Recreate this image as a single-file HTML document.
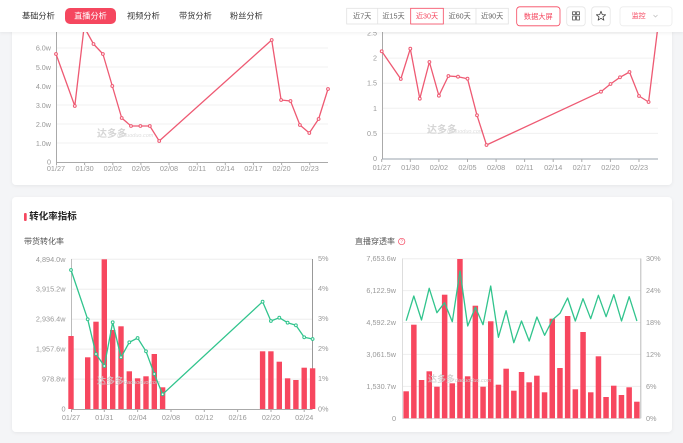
<!DOCTYPE html>
<html><head><meta charset="utf-8">
<style>
html,body{margin:0;padding:0;background:#f4f5f7;}
body{width:683px;height:443px;overflow:hidden;}
svg{display:block;font-family:"Liberation Sans","Noto Sans CJK SC",sans-serif;}
</style></head>
<body>
<svg width="683" height="443" viewBox="0 0 683 443" xmlns="http://www.w3.org/2000/svg">
<defs>
<filter id="sh" x="-5%" y="-5%" width="110%" height="120%"><feDropShadow dx="0" dy="1" stdDeviation="1.5" flood-color="#000" flood-opacity="0.06"/></filter>
</defs>
<rect width="683" height="443" fill="#f4f5f7"/>
<!-- top card -->
<rect x="12" y="-10" width="660" height="195" rx="4" fill="#fff" filter="url(#sh)"/>
<!-- bottom card -->
<rect x="12" y="197" width="660" height="235" rx="4" fill="#fff" filter="url(#sh)"/>

<!-- ===== Top-left chart ===== -->
<g stroke="#f0f0f0" stroke-width="1">
<line x1="56" y1="29" x2="328" y2="29"/><line x1="56" y1="48" x2="328" y2="48"/><line x1="56" y1="67" x2="328" y2="67"/><line x1="56" y1="86" x2="328" y2="86"/><line x1="56" y1="105" x2="328" y2="105"/><line x1="56" y1="124" x2="328" y2="124"/><line x1="56" y1="143" x2="328" y2="143"/>
</g>
<line x1="56.5" y1="20" x2="56.5" y2="162" stroke="#aaa" stroke-width="1"/>
<line x1="56" y1="162.5" x2="328" y2="162.5" stroke="#aaa" stroke-width="1"/>
<g stroke="#aaa"><line x1="56.5" y1="162" x2="56.5" y2="165"/><line x1="84.6" y1="162" x2="84.6" y2="165"/><line x1="112.8" y1="162" x2="112.8" y2="165"/><line x1="140.9" y1="162" x2="140.9" y2="165"/><line x1="169" y1="162" x2="169" y2="165"/><line x1="197.2" y1="162" x2="197.2" y2="165"/><line x1="225.3" y1="162" x2="225.3" y2="165"/><line x1="253.4" y1="162" x2="253.4" y2="165"/><line x1="281.6" y1="162" x2="281.6" y2="165"/><line x1="309.7" y1="162" x2="309.7" y2="165"/></g>
<g font-size="7.2" fill="#999" text-anchor="end" dominant-baseline="central">
<text x="51" y="29">7.0w</text><text x="51" y="48">6.0w</text><text x="51" y="67.5">5.0w</text><text x="51" y="86.5">4.0w</text><text x="51" y="105.5">3.0w</text><text x="51" y="124.5">2.0w</text><text x="51" y="143.5">1.0w</text><text x="51" y="162">0</text>
</g>
<g font-size="7.3" fill="#999" text-anchor="middle" dominant-baseline="central">
<text x="56" y="168.7">01/27</text><text x="84.6" y="168.7">01/30</text><text x="112.8" y="168.7">02/02</text><text x="140.9" y="168.7">02/05</text><text x="169" y="168.7">02/08</text><text x="197.2" y="168.7">02/11</text><text x="225.3" y="168.7">02/14</text><text x="253.4" y="168.7">02/17</text><text x="281.6" y="168.7">02/20</text><text x="309.7" y="168.7">02/23</text>
</g>
<text x="97" y="137" font-size="10" font-weight="bold" fill="#d6d6d6">达多多</text><text x="117" y="137" font-size="5.5" fill="#ddd" font-style="italic">daduoduo.com</text>
<polyline fill="none" stroke="#ee5a73" stroke-width="1.3" stroke-linejoin="round" points="56,54 74.8,106 84.1,27 93.5,44 102.9,54 112.3,86 121.7,118 131,126 140.4,126 149.8,126 159.2,141 271.7,40 281.1,100 290.5,101 299.9,125 309.3,133 318.6,119 328,89"/>
<g fill="#fff" stroke="#ee5a73" stroke-width="1">
<circle cx="56" cy="54" r="1.4"/><circle cx="74.8" cy="106" r="1.4"/><circle cx="84.1" cy="27" r="1.4"/><circle cx="93.5" cy="44" r="1.4"/><circle cx="102.9" cy="54" r="1.4"/><circle cx="112.3" cy="86" r="1.4"/><circle cx="121.7" cy="118" r="1.4"/><circle cx="131" cy="126" r="1.4"/><circle cx="140.4" cy="126" r="1.4"/><circle cx="149.8" cy="126" r="1.4"/><circle cx="159.2" cy="141" r="1.4"/><circle cx="271.7" cy="40" r="1.4"/><circle cx="281.1" cy="100" r="1.4"/><circle cx="290.5" cy="101" r="1.4"/><circle cx="299.9" cy="125" r="1.4"/><circle cx="309.3" cy="133" r="1.4"/><circle cx="318.6" cy="119" r="1.4"/><circle cx="328" cy="89" r="1.4"/>
</g>

<!-- ===== Top-right chart ===== -->
<g stroke="#f0f0f0" stroke-width="1">
<line x1="382" y1="33" x2="658" y2="33"/><line x1="382" y1="58.1" x2="658" y2="58.1"/><line x1="382" y1="83.2" x2="658" y2="83.2"/><line x1="382" y1="108.3" x2="658" y2="108.3"/><line x1="382" y1="133.4" x2="658" y2="133.4"/>
</g>
<line x1="382.5" y1="20" x2="382.5" y2="159" stroke="#aaa"/>
<line x1="382" y1="159" x2="658" y2="159" stroke="#9aa3ad"/>
<g stroke="#aaa"><line x1="381.7" y1="159" x2="381.7" y2="162"/><line x1="410.3" y1="159" x2="410.3" y2="162"/><line x1="438.9" y1="159" x2="438.9" y2="162"/><line x1="467.5" y1="159" x2="467.5" y2="162"/><line x1="496.1" y1="159" x2="496.1" y2="162"/><line x1="524.6" y1="159" x2="524.6" y2="162"/><line x1="553.2" y1="159" x2="553.2" y2="162"/><line x1="581.8" y1="159" x2="581.8" y2="162"/><line x1="610.4" y1="159" x2="610.4" y2="162"/><line x1="639" y1="159" x2="639" y2="162"/></g>
<g font-size="7.2" fill="#999" text-anchor="end" dominant-baseline="central">
<text x="377" y="33">2.5</text><text x="377" y="58">2</text><text x="377" y="83.2">1.5</text><text x="377" y="108.5">1</text><text x="377" y="133.6">0.5</text><text x="377" y="158.3">0</text>
</g>
<g font-size="7.3" fill="#999" text-anchor="middle" dominant-baseline="central">
<text x="381.7" y="167.3">01/27</text><text x="410.3" y="167.3">01/30</text><text x="438.9" y="167.3">02/02</text><text x="467.5" y="167.3">02/05</text><text x="496.1" y="167.3">02/08</text><text x="524.6" y="167.3">02/11</text><text x="553.2" y="167.3">02/14</text><text x="581.8" y="167.3">02/17</text><text x="610.4" y="167.3">02/20</text><text x="639" y="167.3">02/23</text>
</g>
<text x="427" y="133" font-size="10" font-weight="bold" fill="#d6d6d6">达多多</text><text x="447" y="133" font-size="5.5" fill="#ddd" font-style="italic">daduoduo.com</text>
<polyline fill="none" stroke="#ee5a73" stroke-width="1.3" stroke-linejoin="round" points="381.7,51.3 400.8,79 410.3,48.7 419.8,98.7 429.4,62 438.9,95.7 448.4,76 458,76.7 467.5,78.7 477,115.3 486.5,145 601,91.7 610.5,84 620,77.3 629.5,72 639,96 648.6,102 658,26"/>
<g fill="#fff" stroke="#ee5a73" stroke-width="1">
<circle cx="381.7" cy="51.3" r="1.4"/><circle cx="400.8" cy="79" r="1.4"/><circle cx="410.3" cy="48.7" r="1.4"/><circle cx="419.8" cy="98.7" r="1.4"/><circle cx="429.4" cy="62" r="1.4"/><circle cx="438.9" cy="95.7" r="1.4"/><circle cx="448.4" cy="76" r="1.4"/><circle cx="458" cy="76.7" r="1.4"/><circle cx="467.5" cy="78.7" r="1.4"/><circle cx="477" cy="115.3" r="1.4"/><circle cx="486.5" cy="145" r="1.4"/><circle cx="601" cy="91.7" r="1.4"/><circle cx="610.5" cy="84" r="1.4"/><circle cx="620" cy="77.3" r="1.4"/><circle cx="629.5" cy="72" r="1.4"/><circle cx="639" cy="96" r="1.4"/><circle cx="648.6" cy="102" r="1.4"/>
</g>

<!-- ===== Bottom card header ===== -->
<rect x="24" y="213" width="2.7" height="8" rx="1" fill="#f5475f"/>
<text x="29.3" y="217" font-size="9.5" font-weight="bold" fill="#222" dominant-baseline="central">转化率指标</text>
<text x="24" y="241.5" font-size="8" fill="#555" dominant-baseline="central">带货转化率</text>
<text x="355" y="241.5" font-size="8" fill="#555" dominant-baseline="central">直播穿透率</text>
<circle cx="401.7" cy="241.5" r="3.2" fill="none" stroke="#f5475f" stroke-width="0.7"/>
<text x="401.7" y="241.8" font-size="4.8" fill="#f5475f" text-anchor="middle" dominant-baseline="central">?</text>

<!-- ===== Bottom-left chart ===== -->
<g stroke="#eee" stroke-width="1">
<line x1="71" y1="259.3" x2="312.3" y2="259.3"/><line x1="71" y1="289.2" x2="312.3" y2="289.2"/><line x1="71" y1="319.2" x2="312.3" y2="319.2"/><line x1="71" y1="349.1" x2="312.3" y2="349.1"/><line x1="71" y1="379.1" x2="312.3" y2="379.1"/>
</g>
<line x1="71.5" y1="259" x2="71.5" y2="409" stroke="#bbb"/>
<line x1="312.5" y1="259" x2="312.5" y2="409" stroke="#999"/>
<line x1="71" y1="409.5" x2="312.5" y2="409.5" stroke="#aaa"/>
<g stroke="#aaa"><line x1="71.5" y1="409" x2="71.5" y2="412"/><line x1="104.3" y1="409" x2="104.3" y2="412"/><line x1="137.6" y1="409" x2="137.6" y2="412"/><line x1="171" y1="409" x2="171" y2="412"/><line x1="204.3" y1="409" x2="204.3" y2="412"/><line x1="237.6" y1="409" x2="237.6" y2="412"/><line x1="271" y1="409" x2="271" y2="412"/><line x1="304.2" y1="409" x2="304.2" y2="412"/></g>
<g font-size="7.3" fill="#999" text-anchor="end" dominant-baseline="central">
<text x="65.5" y="259.3">4,894.0w</text><text x="65.5" y="289.2">3,915.2w</text><text x="65.5" y="319.2">2,936.4w</text><text x="65.5" y="349.1">1,957.6w</text><text x="65.5" y="379.1">978.8w</text><text x="65.5" y="409">0</text>
</g>
<g font-size="7.3" fill="#999" text-anchor="start" dominant-baseline="central">
<text x="318" y="258.5">5%</text><text x="318" y="288.5">4%</text><text x="318" y="318.5">3%</text><text x="318" y="348.5">2%</text><text x="318" y="378.5">1%</text><text x="318" y="409">0%</text>
</g>
<g font-size="7.3" fill="#999" text-anchor="middle" dominant-baseline="central">
<text x="71" y="417.7">01/27</text><text x="104.3" y="417.7">01/31</text><text x="137.6" y="417.7">02/04</text><text x="171" y="417.7">02/08</text><text x="204.3" y="417.7">02/12</text><text x="237.6" y="417.7">02/16</text><text x="271" y="417.7">02/20</text><text x="304.2" y="417.7">02/24</text>
</g>
<g fill="#f7475f">
<rect x="68.3" y="336" width="5.4" height="73"/>
<rect x="85" y="357.3" width="5.4" height="51.7"/>
<rect x="93.3" y="321.7" width="5.4" height="87.3"/>
<rect x="101.6" y="259.3" width="5.4" height="149.7"/>
<rect x="110" y="330" width="5.4" height="79"/>
<rect x="118.3" y="326.3" width="5.4" height="82.7"/>
<rect x="126.6" y="371.3" width="5.4" height="37.7"/>
<rect x="134.9" y="378.3" width="5.4" height="30.7"/>
<rect x="143.3" y="376.3" width="5.4" height="32.7"/>
<rect x="151.6" y="354" width="5.4" height="55"/>
<rect x="159.9" y="387.3" width="5.4" height="21.7"/>
<rect x="259.9" y="351.3" width="5.4" height="57.7"/>
<rect x="268.2" y="351.3" width="5.4" height="57.7"/>
<rect x="276.6" y="361.7" width="5.4" height="47.3"/>
<rect x="284.9" y="378.3" width="5.4" height="30.7"/>
<rect x="293.2" y="380" width="5.4" height="29"/>
<rect x="301.5" y="367.7" width="5.4" height="41.3"/>
<rect x="309.9" y="368.3" width="5.4" height="40.7"/>
</g>
<text x="97" y="384" font-size="9" font-weight="bold" fill="#ccc" fill-opacity="0.8">达多多</text><text x="124" y="384" font-size="5.5" fill="#ccc" font-style="italic">daduoduo.com</text>
<polyline fill="none" stroke="#31c48d" stroke-width="1.3" stroke-linejoin="round" points="71,270 87.7,319.3 96,354 104.3,366 112.7,322.3 121,357.3 129.3,342.3 137.6,338 146,351.3 154.3,374 162.6,394.3 262.6,301.7 270.9,321 279.3,317.7 287.6,322.7 295.9,325.3 304.2,337.3 312.6,339"/>
<g fill="#fff" stroke="#31c48d" stroke-width="1">
<circle cx="71" cy="270" r="1.4"/><circle cx="87.7" cy="319.3" r="1.4"/><circle cx="96" cy="354" r="1.4"/><circle cx="104.3" cy="366" r="1.4"/><circle cx="112.7" cy="322.3" r="1.4"/><circle cx="121" cy="357.3" r="1.4"/><circle cx="129.3" cy="342.3" r="1.4"/><circle cx="137.6" cy="338" r="1.4"/><circle cx="146" cy="351.3" r="1.4"/><circle cx="154.3" cy="374" r="1.4"/><circle cx="162.6" cy="394.3" r="1.4"/><circle cx="262.6" cy="301.7" r="1.4"/><circle cx="270.9" cy="321" r="1.4"/><circle cx="279.3" cy="317.7" r="1.4"/><circle cx="287.6" cy="322.7" r="1.4"/><circle cx="295.9" cy="325.3" r="1.4"/><circle cx="304.2" cy="337.3" r="1.4"/><circle cx="312.6" cy="339" r="1.4"/>
</g>

<!-- ===== Bottom-right chart ===== -->
<g stroke="#eee" stroke-width="1">
<line x1="402.3" y1="258.7" x2="640.7" y2="258.7"/><line x1="402.3" y1="290.6" x2="640.7" y2="290.6"/><line x1="402.3" y1="322.5" x2="640.7" y2="322.5"/><line x1="402.3" y1="354.4" x2="640.7" y2="354.4"/><line x1="402.3" y1="386.4" x2="640.7" y2="386.4"/>
</g>
<line x1="402.5" y1="258.5" x2="402.5" y2="418.3" stroke="#ddd"/>
<line x1="640.8" y1="258.5" x2="640.8" y2="418.3" stroke="#bbb"/>
<line x1="402.3" y1="418.5" x2="640.7" y2="418.5" stroke="#ddd"/>
<g font-size="7.3" fill="#999" text-anchor="end" dominant-baseline="central">
<text x="396" y="258.7">7,653.6w</text><text x="396" y="290.6">6,122.9w</text><text x="396" y="322.5">4,592.2w</text><text x="396" y="354.4">3,061.5w</text><text x="396" y="386.4">1,530.7w</text><text x="396" y="418.3">0</text>
</g>
<g font-size="7.3" fill="#999" text-anchor="start" dominant-baseline="central">
<text x="646" y="258.7">30%</text><text x="646" y="290.6">24%</text><text x="646" y="322.5">18%</text><text x="646" y="354.4">12%</text><text x="646" y="386.4">6%</text><text x="646" y="418.3">0%</text>
</g>
<g fill="#f7475f">
<rect x="403.4" y="391.3" width="5.5" height="27"/>
<rect x="411.1" y="324.7" width="5.5" height="93.6"/>
<rect x="418.8" y="380" width="5.5" height="38.3"/>
<rect x="426.5" y="371.3" width="5.5" height="47"/>
<rect x="434.2" y="386.7" width="5.5" height="31.6"/>
<rect x="441.9" y="294.7" width="5.5" height="123.6"/>
<rect x="449.5" y="383.3" width="5.5" height="35"/>
<rect x="457.2" y="259" width="5.5" height="159.3"/>
<rect x="464.9" y="376.3" width="5.5" height="42"/>
<rect x="472.6" y="305.7" width="5.5" height="112.6"/>
<rect x="480.3" y="386.7" width="5.5" height="31.6"/>
<rect x="488" y="321.3" width="5.5" height="97"/>
<rect x="495.7" y="384.7" width="5.5" height="33.6"/>
<rect x="503.4" y="368.7" width="5.5" height="49.6"/>
<rect x="511.1" y="390.7" width="5.5" height="27.6"/>
<rect x="518.8" y="372" width="5.5" height="46.3"/>
<rect x="526.4" y="382.3" width="5.5" height="36"/>
<rect x="534.1" y="375.7" width="5.5" height="42.6"/>
<rect x="541.8" y="392.3" width="5.5" height="26"/>
<rect x="549.5" y="318.7" width="5.5" height="99.6"/>
<rect x="557.2" y="368" width="5.5" height="50.3"/>
<rect x="564.9" y="316" width="5.5" height="102.3"/>
<rect x="572.6" y="389.3" width="5.5" height="29"/>
<rect x="580.3" y="332" width="5.5" height="86.3"/>
<rect x="588" y="392.3" width="5.5" height="26"/>
<rect x="595.7" y="356.3" width="5.5" height="62"/>
<rect x="603.3" y="397" width="5.5" height="21.3"/>
<rect x="611" y="385.7" width="5.5" height="32.6"/>
<rect x="618.7" y="395" width="5.5" height="23.3"/>
<rect x="626.4" y="387.3" width="5.5" height="31"/>
<rect x="634.1" y="401.7" width="5.5" height="16.6"/>
</g>
<text x="428" y="382" font-size="9" font-weight="bold" fill="#ccc" fill-opacity="0.8">达多多</text><text x="455" y="382" font-size="5.5" fill="#ccc" font-style="italic">daduoduo.com</text>
<polyline fill="none" stroke="#31c48d" stroke-width="1.3" stroke-linejoin="round" points="406.2,320.7 413.8,296 421.5,320 429.2,288.3 436.9,312.7 444.6,302.7 452.3,321.7 460,271 467.7,326 475.4,307.3 483,324.7 490.7,286 498.4,337.3 506.1,310.7 513.8,342.7 521.5,321 529.2,341 536.9,317 544.6,335.3 552.3,320 560,313.3 567.6,298 575.3,321 583,298.7 590.7,318.7 598.4,295.3 606.1,316.7 613.8,294.7 621.5,321 629.2,296.7 636.9,321"/>

<!-- ===== Header (on top) ===== -->
<rect x="0" y="0" width="683" height="32" fill="#fff" filter="url(#sh)"/>
<g font-size="8.2" fill="#333" dominant-baseline="central">
<text x="22" y="16">基础分析</text>
<text x="127" y="16">视频分析</text>
<text x="179" y="16">带货分析</text>
<text x="230" y="16">粉丝分析</text>
</g>
<rect x="65" y="8" width="51" height="16" rx="5" fill="#f5475f"/>
<text x="90.5" y="16" font-size="8.2" fill="#fff" text-anchor="middle" dominant-baseline="central">直播分析</text>
<!-- date segments -->
<rect x="346.7" y="8.3" width="161.6" height="15.7" fill="#fff" stroke="#e2e2e2" stroke-width="0.8"/>
<g stroke="#e2e2e2" stroke-width="0.8"><line x1="377.7" y1="8.3" x2="377.7" y2="24"/><line x1="476" y1="8.3" x2="476" y2="24"/></g>
<rect x="410.7" y="8.3" width="32.6" height="15.7" fill="#fff" stroke="#f5475f" stroke-width="0.8"/>
<g font-size="7.2" fill="#666" text-anchor="middle" dominant-baseline="central">
<text x="362.2" y="16.2">近7天</text><text x="393.5" y="16.2">近15天</text><text x="459.7" y="16.2">近60天</text><text x="492.2" y="16.2">近90天</text>
</g>
<text x="427" y="16.2" font-size="7.2" fill="#f5475f" text-anchor="middle" dominant-baseline="central">近30天</text>
<rect x="516.7" y="6.8" width="43.3" height="19" rx="3" fill="#fff" stroke="#f5475f" stroke-width="0.8"/>
<text x="538.3" y="16.3" font-size="7.2" fill="#f5475f" text-anchor="middle" dominant-baseline="central">数据大屏</text>
<rect x="566.7" y="6.8" width="18.5" height="19" rx="3" fill="#fff" stroke="#e5e5e5" stroke-width="0.8"/>
<g fill="none" stroke="#555" stroke-width="0.8">
<rect x="572.6" y="11.8" width="2.8" height="2.8"/><rect x="576.6" y="11.8" width="2.8" height="2.8"/><rect x="572.6" y="16" width="2.8" height="4"/><rect x="576.6" y="16" width="2.8" height="4"/>
</g>
<rect x="591.7" y="6.8" width="18.5" height="19" rx="3" fill="#fff" stroke="#e5e5e5" stroke-width="0.8"/>
<polygon points="601,11.3 602.3,14.6 605.6,14.8 603,16.9 603.9,20.2 601,18.3 598.1,20.2 599,16.9 596.4,14.8 599.7,14.6" fill="none" stroke="#444" stroke-width="0.8" stroke-linejoin="round"/>
<rect x="620" y="6.8" width="52" height="19" rx="3" fill="#fff" stroke="#ececec" stroke-width="0.8"/>
<text x="631.7" y="16.3" font-size="7" fill="#f5475f" dominant-baseline="central">监控</text>
<polyline points="653.5,15 655.5,17 657.5,15" fill="none" stroke="#bbb" stroke-width="0.7"/>
</svg>
</body></html>
